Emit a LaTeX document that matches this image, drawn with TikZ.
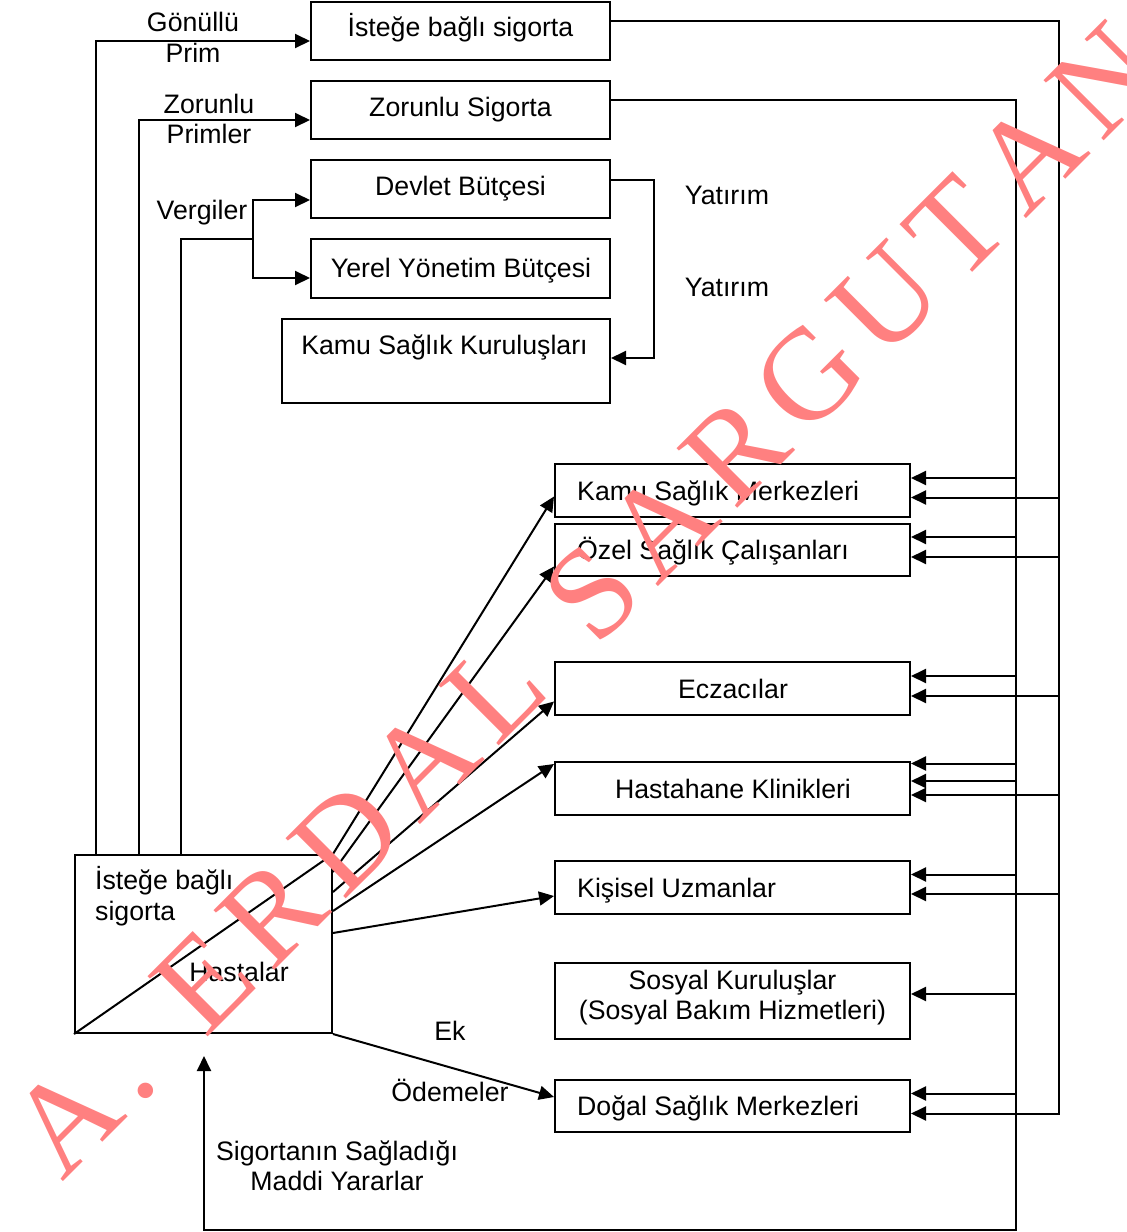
\documentclass[tikz,border=0pt]{standalone}
\usepackage{fontspec}
\setmainfont{Liberation Sans}
\newfontfamily\wmserif{Liberation Serif}
\usetikzlibrary{arrows.meta,calc}
\definecolor{wm}{RGB}{255,128,128}
\newcommand{\wk}{\kern14.5pt}
\begin{document}
\begin{tikzpicture}[x=1pt,y=-1pt,
  box/.style={draw, line width=2pt, inner sep=0pt},
  txt/.style={inner sep=0pt, text height=19.1pt, text depth=0pt, font=\fontsize{26.7pt}{31pt}\selectfont},
  line/.style={line width=2pt},
  arr/.style={line width=2pt, -{Triangle[length=15pt,width=14pt]}},
]
\useasboundingbox (0,0) rectangle (1127,1232);

% boxes
\node[box, minimum width=299pt, minimum height=58pt] (b1) at (460.5,31) {};
\node[box, minimum width=299pt, minimum height=58pt] (b2) at (460.5,110) {};
\node[box, minimum width=299pt, minimum height=58pt] (b3) at (460.5,189) {};
\node[box, minimum width=299pt, minimum height=59pt] (b4) at (460.5,268.5) {};
\node[box, minimum width=328pt, minimum height=84pt] (b5) at (446,361) {};
\node[box, minimum width=355pt, minimum height=53pt] (k1) at (732.5,490.5) {};
\node[box, minimum width=355pt, minimum height=52pt] (k2) at (732.5,550) {};
\node[box, minimum width=355pt, minimum height=53pt] (k3) at (732.5,688.5) {};
\node[box, minimum width=355pt, minimum height=53pt] (k4) at (732.5,788.5) {};
\node[box, minimum width=355pt, minimum height=53pt] (k5) at (732.5,887.5) {};
\node[box, minimum width=355pt, minimum height=76pt] (k6) at (732.5,1001) {};
\node[box, minimum width=355pt, minimum height=52pt] (k7) at (732.5,1106) {};
\node[box, minimum width=257pt, minimum height=178pt] (h) at (203.5,944) {};

% box texts
\node[txt] (t1) at (460.5,27) {İsteğe bağlı sigorta};
\node[txt] (t2) at (460.5,107) {Zorunlu Sigorta};
\node[txt] (t3) at (460.5,186) {Devlet Bütçesi};
\node[txt] (t4) at (461,268) {Yerel Yönetim Bütçesi};
\node[txt] (t5) at (444.5,345) {Kamu Sağlık Kuruluşları};
\node[txt, anchor=west] (t6) at (577,491) {Kamu Sağlık Merkezleri};
\node[txt, anchor=west] (t7) at (577,550) {Özel Sağlık Çalışanları};
\node[txt] (t8) at (733,689) {Eczacılar};
\node[txt] (t9) at (733,789) {Hastahane Klinikleri};
\node[txt, anchor=west] (t10) at (577,888) {Kişisel Uzmanlar};
\node[txt] (t11) at (732.5,980) {Sosyal Kuruluşlar};
\node[txt] (t12) at (732.5,1010) {(Sosyal Bakım Hizmetleri)};
\node[txt, anchor=west] (t13) at (577,1106) {Doğal Sağlık Merkezleri};
\node[txt, anchor=west] (t14) at (95,880) {İsteğe bağlı};
\node[txt, anchor=west] (t15) at (95,911) {sigorta};
\node[txt] (t16) at (239,972) {Hastalar};

% free labels
\node[txt] (l1) at (193,22) {Gönüllü};
\node[txt] (l2) at (193,53) {Prim};
\node[txt] (l3) at (209,104) {Zorunlu};
\node[txt] (l4) at (209,134) {Primler};
\node[txt] (l5) at (202,210) {Vergiler};
\node[txt] (l6) at (727,195) {Yatırım};
\node[txt] (l7) at (727,287) {Yatırım};
\node[txt] (l8) at (450,1031) {Ek};
\node[txt] (l9) at (450,1092) {Ödemeler};
\node[txt] (l10) at (337,1151) {Sigortanın Sağladığı};
\node[txt] (l11) at (337,1181) {Maddi Yararlar};

% diagonal inside patient box
\draw[line] (h.south west) -- (h.north east);

% left feeds
\draw[arr] ($(h.north west)+(22,0)$) |- ($(b1.west)+(0,10)$);
\draw[arr] ($(h.north west)+(65,0)$) |- ($(b2.west)+(0,10)$);
\coordinate (vj) at (253,239);
\draw[line] ($(h.north west)+(107,0)$) |- (vj);
\draw[arr] (vj) |- ($(b3.west)+(0,11)$);
\draw[arr] (vj) |- ($(b4.west)+(0,9.5)$);

% investment
\draw[arr] ($(b3.east)+(0,-9)$) -- ++(43,0) |- ($(b5.east)+(0,-3)$);

% rails
\coordinate (railA) at (1016,0);
\coordinate (railB) at (1059,0);
\coordinate (cA) at (1016,1230);
\coordinate (cB) at (1059,1113.5);
\coordinate (hb) at ($(h.south)+(0.5,22)$);
\draw[arr] ($(b2.east)+(0,-10)$) -| (cA) -| (hb);
\draw[arr] ($(b1.east)+(0,-10)$) -| (cB) -- ($(k7.east)+(0,7.5)$);

\foreach \b/\o/\r in {k1/-12.5/railA, k1/7/railB, k2/-13/railA, k2/7/railB,
  k3/-12.5/railA, k3/7.5/railB, k4/-25/railA, k4/-7.5/railA, k4/6.5/railB,
  k5/-13/railA, k5/6.5/railB, k6/-7/railA, k7/-12.5/railA}
{\coordinate (tmp) at ($(\b.east)+(0,\o)$); \draw[arr] (tmp -| \r) -- (tmp);}

% patient payments
\draw[arr] (h.north east) -- ($(k1.west)+(0,6)$);
\draw[arr] ($(h.north east)+(0,18)$) -- ($(k2.west)+(0,16.5)$);
\draw[arr] ($(h.north east)+(0,38)$) -- ($(k3.west)+(0,13)$);
\draw[arr] ($(h.north east)+(0,57)$) -- ($(k4.west)+(0,-24.5)$);
\draw[arr] ($(h.north east)+(0,79)$) -- ($(k5.west)+(0,8.5)$);
\draw[arr] (h.south east) -- ($(k7.west)+(0,-9)$);

% watermark
\node[rotate=45, anchor=base west, inner sep=0pt, text=wm, font=\wmserif\fontsize{130pt}{132pt}\selectfont] (wmk) at (62,1183)
  {A\wk.\wk\ \wk E\wk R\wk D\wk A\wk L\wk\ \wk S\wk A\wk R\wk G\wk U\wk T\wk A\wk N};
\end{tikzpicture}
\end{document}
